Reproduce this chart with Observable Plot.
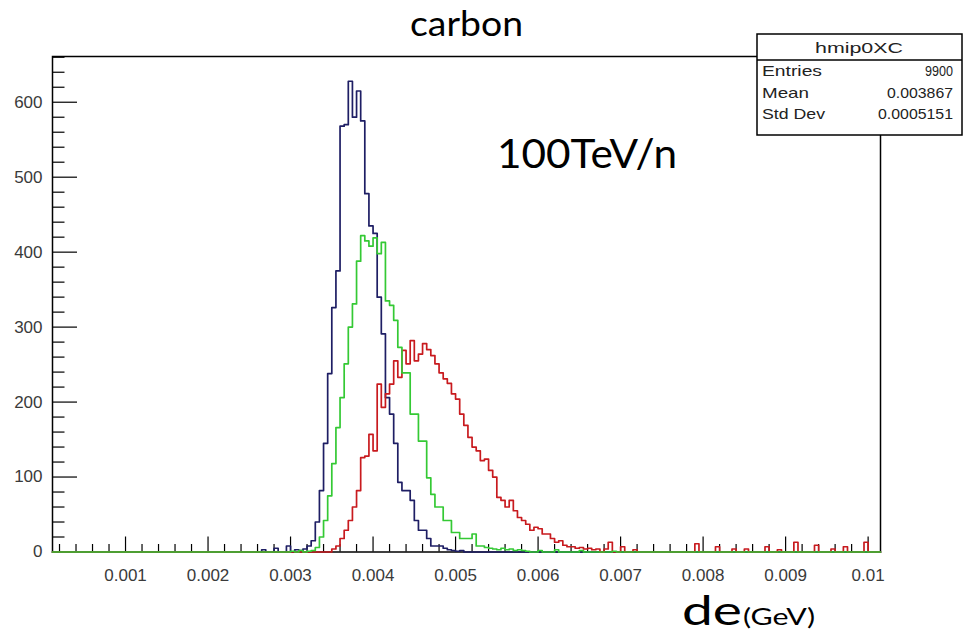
<!DOCTYPE html>
<html>
<head>
<meta charset="utf-8">
<script src="https://cdn.jsdelivr.net/npm/d3@7"></script>
<script src="https://cdn.jsdelivr.net/npm/@observablehq/plot@0.6"></script>
<style>
  html, body { margin: 0; padding: 0; background: white; }
  #chart { position: relative; width: 963px; height: 634px; }
</style>
</head>
<body>
<div id="chart"></div>
<script>
// ---------- data ----------
const binWidth = 0.00005;

// blue histogram: counts per bin starting at blueStart
const blueStart = 0.0031;
const blueCounts = [2, 4, 8, 15, 40, 82, 145, 238, 326, 375, 568, 570, 628, 580, 615, 575, 478, 435, 425, 340,
  291, 206, 184, 145, 93, 82, 82, 69, 42, 29, 29, 18, 8, 8, 8, 5, 3, 2, 1, 2];
const blueExtraX = [0.00265, 0.0028, 0.00295, 0.00305];
const blueExtraY = [3, 5, 8, 3];

// green histogram
const greenStart = 0.0032;
const greenCounts = [1, 2, 6, 20, 42, 75, 118, 166, 206, 251, 300, 331, 388, 422, 415, 408, 419, 398, 413, 335,
  329, 309, 273, 239, 239, 184, 184, 148, 148, 99, 77, 60, 60, 42, 42, 26, 26, 18, 18, 18,
  24, 8, 8, 6, 5, 4, 3, 5, 3, 4, 2, 3, 2, 1];
const greenExtraX = [0.0030, 0.0031, 0.0060, 0.0062, 0.0065, 0.0069];
const greenExtraY = [1, 2, 2, 3, 2, 1];

// red histogram
const redStart = 0.0035;
const redCounts = [4, 8, 18, 29, 42, 60, 82, 126, 128, 157, 135, 224, 193, 211, 224, 255, 233, 269, 251,
  282, 255, 264, 278, 270, 262, 251, 239, 231, 225, 211, 204, 184, 169, 153, 140, 135, 122, 124, 109,
  100, 73, 69, 60, 69, 55, 46, 42, 37, 29, 33, 31, 24, 24, 18, 13, 15, 9, 7, 7,
  5, 6, 4, 5, 3, 4];
const redExtraX = [0.0068, 0.00685, 0.0070, 0.00715, 0.0079, 0.00815, 0.00835, 0.0085, 0.00875, 0.0089,
  0.0091, 0.00935, 0.00955, 0.0097, 0.00995];
const redExtraY = [4, 13, 7, 3, 11, 7, 4, 4, 7, 3, 13, 9, 4, 7, 13];

// axes
const xMin = 0.000115, xMax = 0.01015;
const yMax = 661;
const xTickValues = [0.001, 0.002, 0.003, 0.004, 0.005, 0.006, 0.007, 0.008, 0.009, 0.01];
const xTickLabels = ["0.001", "0.002", "0.003", "0.004", "0.005", "0.006", "0.007", "0.008", "0.009", "0.01"];
const yTickValues = [0, 100, 200, 300, 400, 500, 600];
const yTickLabels = ["0", "100", "200", "300", "400", "500", "600"];

// text
const titleText = "carbon";
const noteText = "100TeV/n";
const xLabelMain = "de";
const xLabelUnit = "(GeV)";
const statsName = "hmip0XC";
const statsKeys = ["Entries", "Mean", "Std Dev"];
const statsValues = ["9900", "0.003867", "0.0005151"];

const colors = { blue: "#1e1e64", green: "#34c934", red: "#c81a1e" };

// ---------- build step lines over the full histogram range ----------
function histLine(start, counts, extraX, extraY) {
  const m = new Map();
  counts.forEach((c, i) => m.set(Math.round(start / binWidth) + i, c));
  extraX.forEach((x, i) => m.set(Math.round(x / binWidth), extraY[i]));
  const i0 = Math.floor(xMin / binWidth), i1 = Math.floor(xMax / binWidth - 1e-6);
  const pts = [];
  for (let i = i0; i <= i1; i++) pts.push({ x: Math.max(i * binWidth, xMin), y: m.get(i) ?? 0 });
  pts.push({ x: xMax, y: pts[pts.length - 1].y });
  return pts;
}
const blueLine = histLine(blueStart, blueCounts, blueExtraX, blueExtraY);
const greenLine = histLine(greenStart, greenCounts, greenExtraX, greenExtraY);
const redLine = histLine(redStart, redCounts, redExtraX, redExtraY);

const xMinor = d3.range(1, 51).map(i => i * 0.0002).filter(v => Math.abs(v / 0.001 - Math.round(v / 0.001)) > 1e-6);
const yMinor = d3.range(1, 34).map(i => i * 20).filter(v => v % 100 !== 0);

const W = 963, H = 634, mL = 52, mR = 83, mT = 56, mB = 82.5;
const plotW = W - mL - mR, plotH = H - mT - mB;
const axisFont = "'Liberation Sans', Arial, sans-serif";

const chart = Plot.plot({
  width: W, height: H,
  marginLeft: mL, marginRight: mR, marginTop: mT, marginBottom: mB,
  style: { fontFamily: axisFont, fontSize: "17px", background: "white", color: "#333" },
  x: { domain: [xMin, xMax], axis: null },
  y: { domain: [0, yMax], axis: null },
  marks: [
    Plot.frame({ stroke: "black", strokeWidth: 1.5 }),
    Plot.ruleX(xTickValues, { x: d => d, insetTop: plotH - 15, stroke: "black", strokeWidth: 1.2 }),
    Plot.ruleX(xMinor, { x: d => d, insetTop: plotH - 7.5, stroke: "black", strokeWidth: 1.2 }),
    Plot.ruleY(yTickValues, { y: d => d, insetRight: plotW - 25, stroke: "black", strokeWidth: 1.2 }),
    Plot.ruleY(yMinor, { y: d => d, insetRight: plotW - 12.5, stroke: "black", strokeWidth: 1.2 }),
    Plot.text(xTickValues, { x: d => d, frameAnchor: "bottom", dy: 29, text: (d, i) => xTickLabels[i],
      fontSize: 17, fill: "#3a3a3a", textAnchor: "middle" }),
    Plot.text(yTickValues, { y: d => d, frameAnchor: "left", dx: -10, text: (d, i) => yTickLabels[i],
      fontSize: 17, fill: "#3a3a3a", textAnchor: "end" }),
    Plot.line(blueLine, { x: "x", y: "y", curve: "step-after", stroke: colors.blue, strokeWidth: 1.7 }),
    Plot.line(redLine, { x: "x", y: "y", curve: "step-after", stroke: colors.red, strokeWidth: 1.7 }),
    Plot.line(greenLine, { x: "x", y: "y", curve: "step-after", stroke: colors.green, strokeWidth: 1.7 })
  ]
});
document.getElementById("chart").appendChild(chart);

// ---------- annotations & stats box ----------
const svg = d3.select(chart);
const anno = "Lato, 'Open Sans', sans-serif";
function addText(parent, x, y, size, len, str, family) {
  return parent.append("text").attr("x", x).attr("y", y).attr("font-family", family || anno)
    .attr("font-size", size).attr("text-anchor", "start").attr("fill", "black")
    .attr("textLength", len).attr("lengthAdjust", "spacingAndGlyphs").text(str);
}
addText(svg, 410, 36, 35, 113, titleText);
addText(svg, 497, 168, 40, 180, noteText);
addText(svg, 682, 625, 40, 60, xLabelMain);
addText(svg, 743, 625, 24, 72, xLabelUnit);

const box = svg.append("g");
box.append("rect").attr("x", 757).attr("y", 34).attr("width", 205).attr("height", 101)
  .attr("fill", "white").attr("stroke", "black").attr("stroke-width", 1.5);
box.append("line").attr("x1", 757).attr("x2", 962).attr("y1", 60).attr("y2", 60).attr("stroke", "black").attr("stroke-width", 1.5);
addText(box, 815, 53, 15, 88, statsName, axisFont).attr("fill", "#222");
const keyW = [60, 47, 63], valW = [28, 66, 75], rowY = [76, 98, 119];
statsKeys.forEach((k, i) => {
  addText(box, 762, rowY[i], 15, keyW[i], k, axisFont).attr("fill", "#222");
  addText(box, 953 - valW[i], rowY[i], 15, valW[i], statsValues[i], axisFont).attr("fill", "#222");
});
</script>
</body>
</html>
